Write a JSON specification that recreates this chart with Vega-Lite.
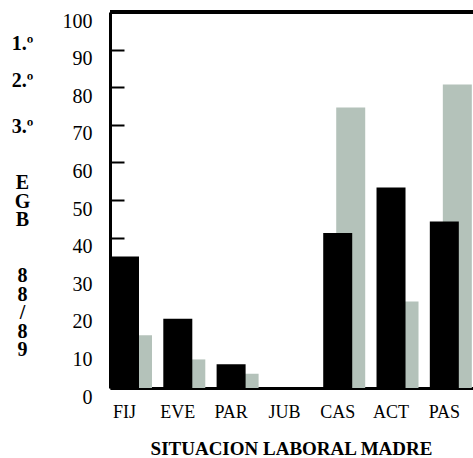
{
  "$schema": "https://vega.github.io/schema/vega-lite/v6.json",
  "width": 363,
  "height": 376,
  "autosize": {"type": "none"},
  "padding": {"left": 110, "top": 12, "right": 0, "bottom": 70},
  "background": "white",
  "config": {"view": {"stroke": null}, "font": "Liberation Serif"},
  "data": {
    "values": [
      {"cat": "FIJ", "serie": "negro", "valor": 35},
      {"cat": "FIJ", "serie": "gris", "valor": 14},
      {"cat": "EVE", "serie": "negro", "valor": 18.4},
      {"cat": "EVE", "serie": "gris", "valor": 7.6},
      {"cat": "PAR", "serie": "negro", "valor": 6.3},
      {"cat": "PAR", "serie": "gris", "valor": 3.8},
      {"cat": "JUB", "serie": "negro", "valor": 0},
      {"cat": "JUB", "serie": "gris", "valor": 0},
      {"cat": "CAS", "serie": "negro", "valor": 41.2},
      {"cat": "CAS", "serie": "gris", "valor": 74.6},
      {"cat": "ACT", "serie": "negro", "valor": 53.3},
      {"cat": "ACT", "serie": "gris", "valor": 23},
      {"cat": "PAS", "serie": "negro", "valor": 44.3},
      {"cat": "PAS", "serie": "gris", "valor": 80.7}
    ]
  },
  "encoding": {
    "y": {
      "field": "valor",
      "type": "quantitative",
      "scale": {"domain": [0, 100], "nice": false},
      "axis": {
        "values": [0, 10, 20, 30, 40, 50, 60, 70, 80, 90, 100],
        "grid": false,
        "domainColor": "black",
        "domainWidth": 3,
        "tickColor": "black",
        "tickWidth": 2,
        "tickSize": -14,
        "labelPadding": 32,
        "labelFont": "Liberation Serif",
        "labelFontSize": 20,
        "labelColor": "black",
        "labelBaseline": "middle",
        "labelOffset": 9,
        "title": ["1.º", "\u200b", "\u200b", "\u200b", "2.º", "\u200b", "\u200b", "\u200b", "\u200b", "3.º", "\u200b", "\u200b", "\u200b", "\u200b", "\u200b", "E", "\u200b", "G", "\u200b", "B", "\u200b", "\u200b", "\u200b", "\u200b", "\u200b", "8", "\u200b", "8", "\u200b", "/", "\u200b", "8", "\u200b", "9"],
        "titleAngle": 0,
        "titleX": -88,
        "titleY": 37,
        "titleAlign": "center",
        "titleBaseline": "alphabetic",
        "titleLineHeight": 9.3,
        "titleFont": "Liberation Serif",
        "titleFontSize": 20,
        "titleFontWeight": "bold",
        "titleColor": "black"
      }
    }
  },
  "layer": [
    {
      "transform": [{"filter": "datum.serie === 'gris'"}],
      "mark": {"type": "bar", "color": "#b4c2ba", "xOffset": 13},
      "encoding": {
        "x": {
          "field": "cat",
          "type": "nominal",
          "sort": ["FIJ", "EVE", "PAR", "JUB", "CAS", "ACT", "PAS"],
          "scale": {"paddingInner": 0.456, "paddingOuter": 0.133, "align": 0},
          "axis": {
            "title": "SITUACION LABORAL MADRE",
            "labelAngle": 0,
            "ticks": false,
            "tickSize": 0,
            "domainColor": "black",
            "domainWidth": 3,
            "labelFont": "Liberation Serif",
            "labelFontSize": 18,
            "labelColor": "black",
            "labelBaseline": "alphabetic",
            "labelPadding": 29,
            "titleFont": "Liberation Serif",
            "titleFontSize": 19,
            "titleFontWeight": "bold",
            "titleColor": "black",
            "titleBaseline": "alphabetic",
            "titleAlign": "center",
            "titleX": 181,
            "titleY": 66
          }
        }
      }
    },
    {
      "transform": [{"filter": "datum.serie === 'negro'"}],
      "mark": {"type": "bar", "color": "black"},
      "encoding": {
        "x": {
          "field": "cat",
          "type": "nominal",
          "sort": ["FIJ", "EVE", "PAR", "JUB", "CAS", "ACT", "PAS"],
          "scale": {"paddingInner": 0.456, "paddingOuter": 0.133, "align": 0},
          "axis": {
            "title": "SITUACION LABORAL MADRE",
            "labelAngle": 0,
            "ticks": false,
            "tickSize": 0,
            "domainColor": "black",
            "domainWidth": 3,
            "labelFont": "Liberation Serif",
            "labelFontSize": 18,
            "labelColor": "black",
            "labelBaseline": "alphabetic",
            "labelPadding": 29,
            "titleFont": "Liberation Serif",
            "titleFontSize": 19,
            "titleFontWeight": "bold",
            "titleColor": "black",
            "titleBaseline": "alphabetic",
            "titleAlign": "center",
            "titleX": 181,
            "titleY": 66
          }
        }
      }
    },
    {
      "mark": {"type": "rule", "color": "black", "strokeWidth": 3},
      "encoding": {"y": {"datum": 100}}
    }
  ]
}
